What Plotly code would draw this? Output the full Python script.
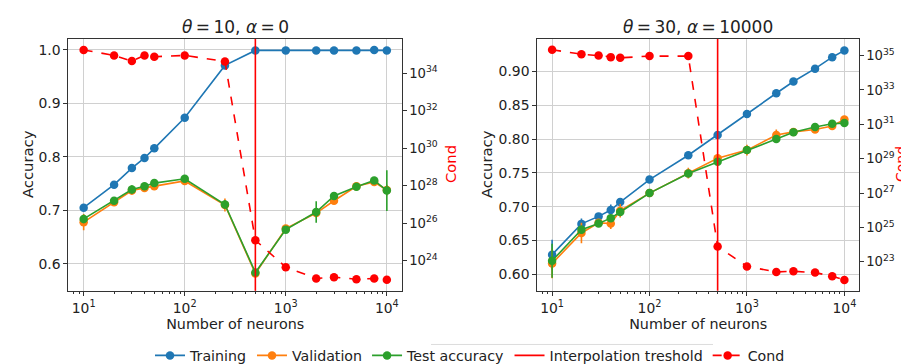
import plotly.graph_objects as go

neurons = [10, 20, 30, 40, 50, 100, 250, 500, 1000, 2000, 3000, 5000, 7500, 10000]
threshold = 500

# Left panel: theta=10, alpha=0
L_train = [0.705, 0.748, 0.779, 0.798, 0.816, 0.873, 0.971, 0.999, 0.999, 0.999, 0.999, 0.999, 1.000, 0.999]
L_train_err = [0.005, 0.004, 0.004, 0.004, 0.004, 0.003, 0.003, 0.001, 0.001, 0.001, 0.001, 0.001, 0.001, 0.001]
L_val = [0.678, 0.715, 0.737, 0.742, 0.745, 0.755, 0.710, 0.582, 0.666, 0.695, 0.718, 0.745, 0.753, 0.738]
L_val_err = [0.015, 0.006, 0.008, 0.005, 0.005, 0.006, 0.012, 0.005, 0.005, 0.008, 0.006, 0.005, 0.004, 0.010]
L_test = [0.684, 0.718, 0.739, 0.745, 0.751, 0.759, 0.711, 0.584, 0.664, 0.697, 0.727, 0.744, 0.756, 0.737]
L_test_err = [0.008, 0.006, 0.008, 0.004, 0.004, 0.005, 0.008, 0.006, 0.004, 0.020, 0.005, 0.004, 0.004, 0.038]
L_cond_exp = [35.23, 34.94, 34.64, 34.94, 34.87, 34.94, 34.62, 25.09, 23.65, 23.05, 23.12, 23.01, 23.05, 22.98]

# Right panel: theta=30, alpha=10000
R_train = [0.629, 0.6745, 0.6856, 0.695, 0.7067, 0.740, 0.776, 0.806, 0.837, 0.8677, 0.885, 0.904, 0.921, 0.931]
R_train_err = [0.022, 0.008, 0.004, 0.008, 0.006, 0.004, 0.003, 0.003, 0.003, 0.002, 0.002, 0.002, 0.002, 0.002]
R_val = [0.616, 0.661, 0.676, 0.675, 0.694, 0.720, 0.7495, 0.7716, 0.7836, 0.806, 0.8105, 0.814, 0.8193, 0.829]
R_val_err = [0.022, 0.015, 0.005, 0.008, 0.010, 0.005, 0.008, 0.005, 0.008, 0.008, 0.004, 0.004, 0.004, 0.004]
R_test = [0.620, 0.666, 0.675, 0.683, 0.692, 0.720, 0.749, 0.7663, 0.7836, 0.800, 0.810, 0.8177, 0.8225, 0.8235]
R_test_err = [0.025, 0.006, 0.005, 0.005, 0.005, 0.004, 0.004, 0.004, 0.004, 0.004, 0.003, 0.003, 0.003, 0.003]
R_cond_exp = [35.34, 35.08, 35.00, 34.91, 34.87, 34.97, 34.97, 23.89, 22.73, 22.41, 22.45, 22.37, 22.16, 21.94]

TS = "\u2009"
titles = ["<i>θ</i>" + TS + "=" + TS + "10, <i>α</i>" + TS + "=" + TS + "0",
          "<i>θ</i>" + TS + "=" + TS + "30, <i>α</i>" + TS + "=" + TS + "10000"]
x_ticks = [10, 100, 1000, 10000]
x_ticktext = ["10<sup>1</sup>", "10<sup>2</sup>", "10<sup>3</sup>", "10<sup>4</sup>"]
x_minor = [v * m for v in [1, 10, 100, 1000] for m in range(2, 10)]
L_cond_ticks = [24, 26, 28, 30, 32, 34]
R_cond_ticks = [23, 25, 27, 29, 31, 33, 35]

BLUE, ORANGE, GREEN, RED = "#1f77b4", "#ff7f0e", "#2ca02c", "#ff0000"
FONT = "DejaVu Sans"
W, H = 909, 364
TXT = "#222222"

fig = go.Figure()

panels = [
    dict(train=L_train, train_err=L_train_err, val=L_val, val_err=L_val_err,
         test=L_test, test_err=L_test_err, cond=L_cond_exp, x="x", y="y", yc="y3"),
    dict(train=R_train, train_err=R_train_err, val=R_val, val_err=R_val_err,
         test=R_test, test_err=R_test_err, cond=R_cond_exp, x="x2", y="y2", yc="y4"),
]

names = ["Training", "Validation", "Test accuracy"]
for i, p in enumerate(panels):
    show = i == 0
    for name, vals, errs, col in [("Training", p["train"], p["train_err"], BLUE),
                                  ("Validation", p["val"], p["val_err"], ORANGE),
                                  ("Test accuracy", p["test"], p["test_err"], GREEN)]:
        fig.add_trace(go.Scatter(
            x=neurons, y=vals, mode="lines+markers", name=name, showlegend=show,
            line=dict(color=col, width=1.6), marker=dict(color=col, size=8.5),
            error_y=dict(type="data", array=errs, color=col, thickness=1.6, width=0),
            xaxis=p["x"], yaxis=p["y"], legendrank=names.index(name) + 1,
        ))
    fig.add_shape(type="line", x0=threshold, x1=threshold, y0=0, y1=1,
                  xref=p["x"], yref=p["y"] + " domain",
                  line=dict(color=RED, width=1.6),
                  name="Interpolation treshold", showlegend=show, legendrank=4)
    fig.add_trace(go.Scatter(
        x=neurons, y=[10.0 ** e for e in p["cond"]], mode="lines+markers", name="Cond",
        showlegend=show, line=dict(color=RED, width=1.6, dash="dash"),
        marker=dict(color=RED, size=8.5), xaxis=p["x"], yaxis=p["yc"], legendrank=5,
    ))

ytop = 1 - 31.7 / H
ybot = 1 - 290 / H
xdomL = [60.3 / W, 394 / W]
xdomR = [529.3 / W, 851 / W]

axis_common = dict(showline=True, linecolor="#333333", linewidth=1, ticks="outside",
                   ticklen=4, tickcolor="#333333", tickfont=dict(size=13.9, color=TXT),
                   zeroline=False)
axis_cond = dict(axis_common, ticklen=3.5, tickfont=dict(size=13.2, color=TXT))
xcommon = dict(type="log", range=[0.848, 4.15], tickvals=x_ticks, ticktext=x_ticktext,
               showgrid=True, gridcolor="#d0d0d0", gridwidth=1, mirror=True,
               minor=dict(tickvals=x_minor, ticks="outside", ticklen=2, tickcolor="#333333", showgrid=False),
               title=dict(text="Number of neurons", font=dict(size=14.3, color=TXT), standoff=3),
               **axis_common)

def ytitle(text, xpx, color, size=14.8):
    return dict(text=text, x=xpx / W, y=1 - 160 / H, xref="paper", yref="paper", textangle=-90,
                showarrow=False, font=dict(size=size, color=color), xanchor="center", yanchor="middle")

fig.update_layout(
    width=W, height=H,
    margin=dict(l=0, r=0, t=0, b=0),
    paper_bgcolor="white", plot_bgcolor="white",
    font=dict(family=FONT, color=TXT),
    showlegend=True,
    xaxis=dict(domain=xdomL, anchor="y", **xcommon),
    xaxis2=dict(domain=xdomR, anchor="y2", **xcommon),
    yaxis=dict(domain=[ybot, ytop], anchor="x", range=[0.5496, 1.0205],
               tickvals=[0.6, 0.7, 0.8, 0.9, 1.0], ticktext=["0.6", "0.7", "0.8", "0.9", "1.0"],
               showgrid=True, gridcolor="#d0d0d0", **axis_common),
    yaxis2=dict(domain=[ybot, ytop], anchor="x2", range=[0.5755, 0.948],
                tickvals=[0.60, 0.65, 0.70, 0.75, 0.80, 0.85, 0.90],
                ticktext=["0.60", "0.65", "0.70", "0.75", "0.80", "0.85", "0.90"],
                showgrid=True, gridcolor="#d0d0d0", **axis_common),
    yaxis3=dict(overlaying="y", anchor="x", side="right", type="log", range=[22.39, 35.82],
                tickvals=[10.0 ** e for e in L_cond_ticks],
                ticktext=["10<sup>%d</sup>" % e for e in L_cond_ticks],
                showgrid=False, **axis_cond),
    yaxis4=dict(overlaying="y2", anchor="x2", side="right", type="log", range=[21.31, 35.97],
                tickvals=[10.0 ** e for e in R_cond_ticks],
                ticktext=["10<sup>%d</sup>" % e for e in R_cond_ticks],
                showgrid=False, **axis_cond),
    legend=dict(orientation="h", x=462 / W, xanchor="center", y=1 - 356.5 / H, yanchor="middle",
                font=dict(size=14.2, color=TXT), bgcolor="rgba(0,0,0,0)",
                itemwidth=30, tracegroupgap=0, traceorder="normal"),
    annotations=[
        dict(text=titles[0], x=(xdomL[0] + xdomL[1]) / 2, y=1 - 19.5 / H, xref="paper", yref="paper",
             showarrow=False, font=dict(size=17, color=TXT), xanchor="center", yanchor="middle"),
        dict(text=titles[1], x=(xdomR[0] + xdomR[1]) / 2, y=1 - 19.5 / H, xref="paper", yref="paper",
             showarrow=False, font=dict(size=17, color=TXT), xanchor="center", yanchor="middle"),
        ytitle("Accuracy", 19, TXT),
        ytitle("Cond", 442, RED),
        ytitle("Accuracy", 478, TXT),
        ytitle("Cond", 893, RED, 14),
    ],
)

# faint legend frame edge visible in the reference
fig.add_shape(type="line", xref="paper", yref="paper", x0=423 / W, x1=705 / W,
              y0=1 - 345 / H, y1=1 - 345 / H, line=dict(color="#dddddd", width=1))

fig.write_html("out.html")
